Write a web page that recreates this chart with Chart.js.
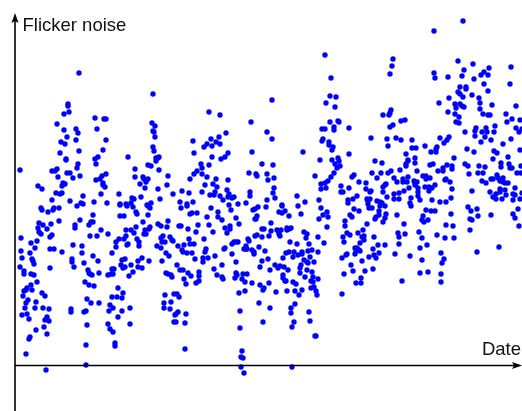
<!DOCTYPE html>
<html><head><meta charset="utf-8">
<style>html,body{margin:0;padding:0;background:#fff}canvas{display:block}</style>
<script src="https://cdn.jsdelivr.net/npm/chart.js@4"></script></head>
<body><canvas id="c" width="522" height="411"></canvas>
<script>
const xAxisTitle = "Date";
const yAxisTitle = "Flicker noise";
// [date, flicker noise] readings, grouped by stretch of the date axis
const readingsA = [[20,196],[79,293],[153,272],[68,262],[68,260],[69,254],[64,252],[57,242],[76,237],[64,236],[78,233],[67,229],[76,226],[61,224],[65,222],[79,215],[60,213],[66,207],[66,206],[78,202],[77,198],[52,195],[55,195],[57,197],[58,189],[67,193],[70,193],[73,188],[80,190],[38,180],[42,177],[62,180],[63,183],[65,182],[56,173],[60,172],[62,173],[83,170],[52,166],[70,165],[81,163],[83,162],[95,248],[104,247],[106,247],[97,237],[106,226],[103,216],[95,207],[98,209],[96,202],[106,192],[102,190],[100,187],[96,186],[103,183],[103,181],[105,179],[101,172],[94,164],[107,163],[119,172],[128,209],[135,197],[135,189],[143,189],[144,187],[146,184],[148,187],[140,182],[145,178],[132,168],[134,167],[141,169],[120,162],[126,162],[131,163],[148,201],[151,200],[156,205],[159,209],[156,208],[158,208],[153,219],[154,215],[152,243],[155,240],[153,235],[154,234],[155,229],[159,196],[168,190],[167,181],[158,177],[173,172],[160,167],[151,163],[147,161]];
const readingsB = [[41,158],[42,156],[48,154],[53,156],[54,158],[59,158],[77,160],[93,151],[80,146],[59,145],[51,142],[47,137],[43,141],[39,143],[38,138],[39,134],[41,132],[52,131],[50,129],[21,128],[37,125],[31,123],[35,118],[50,117],[54,117],[21,115],[30,113],[62,114],[22,108],[32,107],[33,105],[34,102],[20,99],[50,98],[24,95],[24,92],[31,92],[34,91],[37,84],[31,81],[27,78],[26,76],[24,75],[32,76],[23,70],[42,73],[45,70],[28,66],[26,63],[36,64],[25,58],[35,58],[43,58],[49,57],[22,51],[27,52],[29,47],[47,49],[45,46],[49,45],[36,36],[44,39],[47,32],[30,29],[29,27],[26,12],[46,-4],[75,141],[75,138],[89,141],[91,144],[93,144],[101,136],[90,130],[97,130],[108,132],[73,121],[82,120],[82,113],[72,107],[72,104],[74,99],[93,110],[98,105],[84,103],[88,96],[89,93],[90,92],[92,91],[99,93],[85,84],[89,81],[94,80],[87,67],[91,63],[99,63],[71,57],[71,54],[84,54],[86,55],[87,41],[86,21],[86,1],[112,113],[116,124],[116,119],[119,127],[124,127],[126,130],[126,136],[131,136],[134,133],[136,139],[128,122],[127,121],[137,127],[139,124],[139,120],[143,144],[148,151],[145,136],[144,132],[146,132],[150,139],[149,137],[120,150],[124,150],[136,154],[137,152],[127,160],[133,159],[120,161],[148,160],[150,158],[158,142],[161,140],[168,145],[167,139],[163,130],[161,128],[165,124],[162,124],[170,129],[172,126],[173,125],[157,120],[161,118],[166,113],[169,110],[162,105],[149,105],[142,108],[138,105],[138,99],[142,98],[131,101],[133,94],[129,90],[125,107],[122,106],[121,101],[123,98],[125,99],[114,97],[112,97],[113,92],[111,92],[108,91],[118,78],[123,73],[112,69],[117,69],[122,68],[110,61],[113,58],[109,55],[122,55],[130,58],[118,49],[108,42],[110,37],[113,34],[130,42],[115,23],[115,20],[166,93],[168,92],[171,91],[172,89],[165,71],[174,72],[164,63],[171,64],[164,58],[170,57],[175,51],[174,44]];
const readingsC = [[325,311],[331,288],[272,266],[330,270],[336,269],[326,263],[335,259],[209,254],[220,251],[251,244],[330,244],[338,245],[339,244],[267,234],[322,237],[325,237],[334,239],[334,236],[226,233],[219,229],[211,227],[272,227],[193,225],[323,227],[322,225],[329,224],[329,221],[216,224],[220,222],[212,220],[207,222],[204,219],[333,219],[332,216],[194,213],[252,214],[303,214],[228,213],[225,209],[221,207],[212,209],[320,206],[332,206],[338,208],[339,205],[335,202],[340,200],[337,198],[201,202],[202,198],[209,201],[262,202],[273,201],[197,195],[194,192],[202,192],[249,193],[256,192],[257,190],[267,192],[274,188],[268,186],[334,193],[331,189],[315,190],[190,187],[207,189],[216,187],[228,186],[328,185],[325,183],[321,182],[321,177],[326,178],[205,181],[213,182],[217,179],[341,180],[274,178],[182,175],[189,173],[202,174],[215,174],[227,176],[250,174],[250,170],[273,173],[341,174],[343,174],[210,171],[214,171],[220,170],[229,172],[228,169],[234,169],[232,168],[275,168],[297,170],[223,166],[267,166],[319,166],[305,164],[180,164],[193,164],[187,162],[246,163],[238,162],[229,161],[282,161],[298,160]];
const readingsD = [[181,158],[187,160],[190,152],[192,153],[197,153],[207,149],[211,158],[218,154],[218,149],[222,146],[231,156],[236,148],[239,142],[253,156],[255,157],[258,159],[266,159],[282,160],[285,155],[279,154],[282,153],[289,150],[301,152],[321,158],[327,154],[323,151],[319,147],[328,149],[257,150],[255,147],[256,147],[271,143],[179,140],[181,140],[188,137],[198,141],[196,134],[209,141],[213,134],[225,138],[230,140],[230,137],[227,133],[262,137],[264,137],[271,135],[257,131],[255,130],[262,129],[269,130],[277,136],[281,136],[279,134],[279,132],[280,130],[287,138],[291,138],[287,136],[289,137],[304,134],[307,132],[306,128],[318,129],[327,139],[189,127],[204,127],[178,120],[184,121],[190,122],[194,122],[232,122],[234,124],[236,124],[238,124],[248,127],[249,125],[290,124],[297,122],[309,122],[324,123],[225,118],[224,117],[206,117],[205,114],[208,108],[182,116],[183,114],[187,113],[192,113],[246,120],[246,117],[247,117],[244,117],[252,116],[254,114],[254,112],[259,119],[265,115],[232,112],[215,110],[195,107],[203,108],[203,104],[236,104],[268,107],[262,105],[260,99],[289,114],[286,113],[294,114],[293,109],[283,108],[302,114],[302,112],[298,111],[308,115],[312,116],[318,114],[310,109],[304,106],[307,104],[308,103],[314,104],[177,101],[180,96],[183,96],[188,93],[191,90],[199,94],[199,90],[214,97],[222,101],[217,91],[222,89],[223,87],[184,87],[186,82],[196,83],[199,85],[236,93],[237,91],[235,88],[243,92],[247,92],[242,87],[245,84],[252,83],[260,81],[269,83],[264,78],[263,76],[239,73],[245,75],[270,96],[275,101],[278,98],[280,100],[284,99],[288,96],[283,91],[283,88],[285,85],[286,85],[276,74],[287,75],[293,84],[296,82],[295,75],[302,76],[299,71],[301,101],[300,98],[300,93],[305,89],[307,96],[312,94],[313,89],[311,85],[313,84],[318,87],[311,78],[314,79],[316,75],[317,71],[259,63],[240,55],[270,58],[295,62],[291,58],[291,53],[309,54],[310,45],[294,44],[292,39],[263,44],[240,38],[315,30],[316,30],[242,15],[241,9],[243,8],[241,-1],[244,-7],[292,-1],[177,72],[179,69],[178,54],[176,52],[176,44],[186,52],[185,43],[185,17],[343,129],[344,124],[345,145],[345,140],[342,108],[346,111],[344,92],[342,72]];
const readingsE = [[463,345],[434,335],[393,307],[392,300],[390,292],[458,305],[473,302],[511,299],[464,296],[489,298],[434,293],[435,288],[448,289],[462,290],[484,294],[481,291],[488,291],[474,287],[484,282],[510,282],[460,279],[466,279],[466,277],[488,275],[458,274],[460,272],[463,269],[472,271],[479,268],[449,268],[439,263],[480,263],[455,262],[460,262],[462,260],[464,259],[456,258],[492,261],[516,260],[480,257],[448,254],[455,252],[459,249],[391,256],[390,253],[389,251],[383,251],[483,252],[488,251],[490,251],[506,252],[401,245],[405,246],[456,244],[459,243],[512,247],[507,244],[520,246],[390,239],[393,241],[349,238],[495,240],[516,238],[522,237],[476,238],[475,235],[486,238],[482,234],[487,234],[494,234],[465,234],[519,234],[371,228],[387,227],[396,228],[401,226],[412,226],[475,230],[485,229],[511,227],[440,228],[449,229],[447,226],[444,223],[481,224],[491,226],[503,222],[388,220],[425,220],[412,218],[416,218],[437,219],[436,217],[431,214],[436,214],[467,217],[474,214],[494,215],[497,213],[520,216],[349,212],[406,212],[415,208],[454,208],[508,209],[493,207],[375,205],[382,203],[408,206],[408,205],[406,202],[406,200],[415,203],[465,202],[468,200],[479,200],[485,199],[501,203],[501,199],[509,202],[510,198],[512,198],[521,200],[430,201],[433,202],[447,201],[452,200],[452,197],[438,195],[443,198],[443,195],[417,195],[400,196],[391,195],[388,193],[381,193],[372,193],[517,193],[521,193],[469,192],[478,193],[483,193],[354,191],[352,189],[377,188],[408,189],[394,188],[423,190],[426,190],[426,187],[430,188],[446,187],[445,186],[450,184],[359,184],[366,183],[397,184],[403,187],[403,184],[407,184],[482,185],[486,183],[491,187],[493,187],[497,191],[503,188],[498,188],[500,185],[503,184],[508,183],[505,183],[414,185],[417,184],[415,183],[415,181],[435,181],[429,179],[432,178],[425,179],[418,178],[429,175],[386,182],[385,181],[383,179],[409,178],[404,175],[515,178],[452,177],[472,175],[490,174],[349,178],[366,177],[371,175],[370,174],[383,174],[500,177],[505,176],[500,174],[506,171],[496,172],[399,173],[394,172],[418,174],[418,170],[513,172],[515,171],[522,173],[357,170],[387,169],[411,168],[451,168],[353,167],[348,166],[493,169],[496,167],[502,167],[520,167],[513,166],[367,167],[370,167],[368,165],[394,167],[399,167],[420,166],[432,166],[377,165],[380,164],[382,163],[410,163],[440,164],[446,164],[348,163],[368,162]];
const readingsF = [[369,158],[372,158],[354,157],[380,160],[385,160],[359,155],[350,151],[352,149],[379,155],[379,151],[376,149],[375,147],[386,152],[385,148],[383,144],[411,160],[426,156],[431,155],[435,155],[397,151],[423,150],[422,146],[424,144],[428,146],[451,152],[468,159],[471,155],[477,157],[478,150],[470,147],[472,146],[491,151],[513,152],[515,148],[518,157],[519,140],[404,142],[446,141],[453,140],[470,136],[367,142],[419,134],[405,132],[398,133],[399,129],[363,136],[358,133],[350,131],[347,133],[437,131],[445,128],[454,128],[422,128],[374,129],[362,129],[364,130],[364,126],[360,123],[385,121],[378,121],[373,117],[399,122],[427,121],[420,118],[355,118],[357,118],[359,116],[360,115],[356,115],[355,112],[347,112],[379,113],[395,112],[410,110],[374,111],[369,109],[376,108],[441,113],[477,114],[499,119],[362,105],[351,101],[422,106],[444,107],[442,103],[353,95],[365,95],[373,97],[420,93],[428,94],[441,92],[361,88],[402,85],[441,84],[356,83],[361,83]];
const readings = [...readingsA,...readingsB,...readingsC,...readingsD,...readingsE,...readingsF];

const axesPlugin = {
  id:'arrowAxes',
  afterDatasetsDraw(chart){
    const {ctx,scales:{x,y}} = chart;
    const x0 = x.getPixelForValue(15), y0 = y.getPixelForValue(0.5);
    const top = y.getPixelForValue(353), right = x.getPixelForValue(522), bottom = y.getPixelForValue(-45);
    ctx.save();
    ctx.strokeStyle='#000'; ctx.fillStyle='#000'; ctx.lineWidth=1.6;
    ctx.beginPath(); ctx.moveTo(x0,top+8); ctx.lineTo(x0,bottom); ctx.stroke();
    ctx.beginPath(); ctx.moveTo(x0,y0); ctx.lineTo(right-8,y0); ctx.stroke();
    ctx.beginPath(); ctx.moveTo(x0,top); ctx.lineTo(x0+3.5,top+10); ctx.lineTo(x0,top+8); ctx.lineTo(x0-3.5,top+10); ctx.closePath(); ctx.fill();
    ctx.beginPath(); ctx.moveTo(right,y0); ctx.lineTo(right-10,y0-3.5); ctx.lineTo(right-8,y0); ctx.lineTo(right-10,y0+3.5); ctx.closePath(); ctx.fill();
    ctx.fillStyle='#111'; ctx.font='18.5px "Liberation Sans"'; ctx.textBaseline='alphabetic';
    ctx.textAlign='left'; ctx.fillText(yAxisTitle,22.5,31);
    ctx.textAlign='right'; ctx.fillText(xAxisTitle,521,354.5);
    ctx.restore();
  }
};
new Chart(document.getElementById('c'),{
  type:'scatter',
  data:{datasets:[{data:readings.map(r=>({x:r[0],y:r[1]})),backgroundColor:'#0000ff',borderColor:'#0000ff',borderWidth:0,pointRadius:2.7,clip:false}]},
  options:{responsive:false,animation:false,layout:{padding:0,autoPadding:false},
    plugins:{legend:{display:false},tooltip:{enabled:false}},
    scales:{x:{type:'linear',min:0,max:522,display:false},y:{type:'linear',min:-45,max:366,display:false}}},
  plugins:[axesPlugin]
});
</script></body></html>
